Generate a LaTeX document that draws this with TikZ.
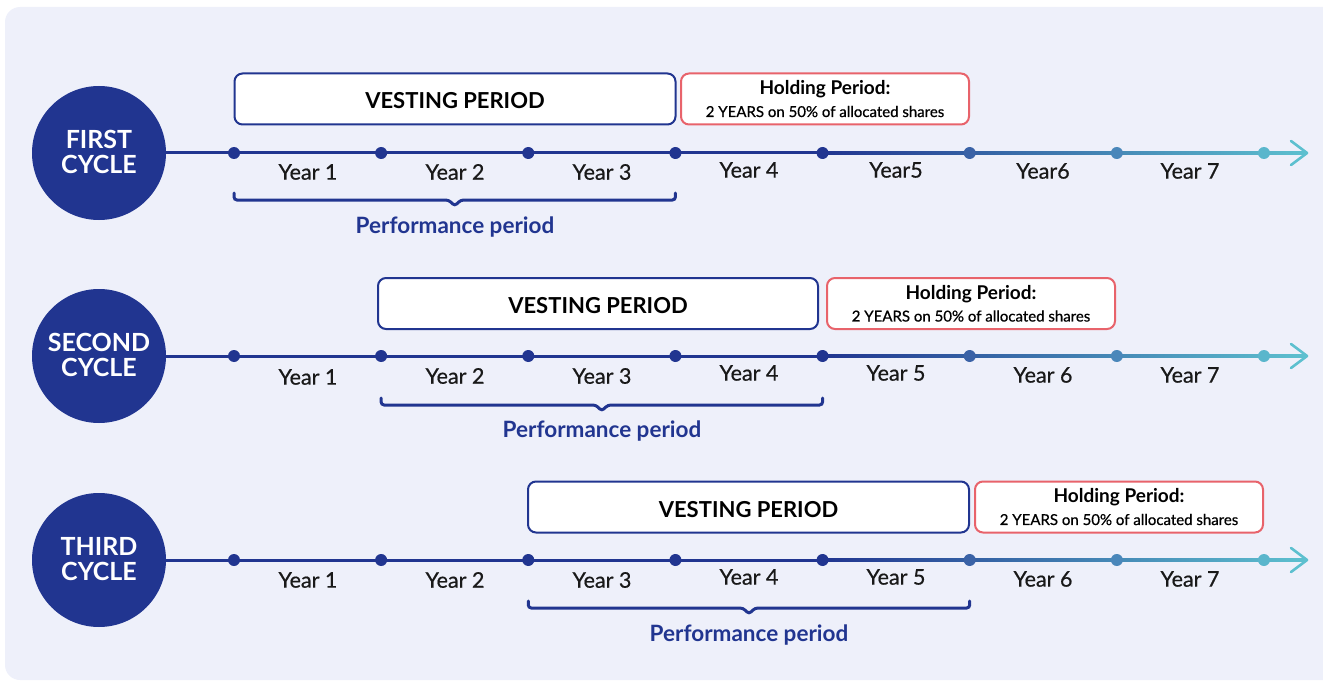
\documentclass[tikz,border=0pt]{standalone}
\usepackage{fontspec}
\setmainfont{Lato}
\newfontfamily\medfont[FakeBold=0.6]{Lato}
\usetikzlibrary{calc}
\definecolor{navy}{HTML}{213590}
\definecolor{redc}{HTML}{E8636B}
\definecolor{bgc}{HTML}{EEF0FA}
\definecolor{cyanc}{HTML}{5DC0CF}
\definecolor{dsix}{HTML}{3A62A6}
\definecolor{dseven}{HTML}{4A87BA}
\definecolor{deight}{HTML}{5AB6CC}
\begin{document}
\begin{tikzpicture}[x=1pt,y=-1pt,
  cycle/.style={circle, fill=navy, minimum size=134pt, inner sep=0pt},
  ctext/.style={text=white, align=center, font=\fontsize{25}{24.5}\selectfont\bfseries},
  dot/.style={circle, minimum size=12pt, inner sep=0pt},
  vest/.style={draw=navy, line width=2pt, fill=white, rounded corners=8pt, minimum height=51pt,
    font=\fontsize{22}{24}\selectfont\bfseries, inner sep=0pt, text height=20pt, text depth=0pt},
  hold/.style={draw=redc, line width=2pt, fill=white, rounded corners=8pt, minimum height=51pt,
    minimum width=288pt, align=center, inner sep=0pt, font=\fontsize{19}{22}\selectfont},
  yr/.style={font=\medfont\fontsize{21.5}{24}\selectfont, text=black!90, inner sep=0pt},
  perf/.style={font=\fontsize{22.5}{24}\selectfont\bfseries, text=navy, inner sep=0pt},
  brace/.style={draw=navy, line width=3pt, rounded corners=3pt, line cap=round},
  tline/.style={draw=navy, line width=3pt},
  arr/.style={draw=cyanc, line width=2.6pt, line cap=round, line join=round}
]
\useasboundingbox (0,0) rectangle (1323,682);
\fill[bgc, rounded corners=15pt] (5,7) rectangle (1380,680);

\foreach \r/\Y in {1/153, 2/356, 3/560} {
  \node[cycle] (c\r) at (99,\Y) {};
  \foreach \i in {1,...,8} {
    \coordinate (d\r-\i) at ({234+(\i-1)*147.14},\Y);
  }
  \coordinate (a\r) at (1307,\Y);
  \draw[tline] (c\r.east) -- (d\r-5);
  \shade[left color=navy, right color=cyanc] ($(d\r-5)+(0,-1.5)$) rectangle ($(a\r)+(-2,1.5)$);
  \draw[arr] ($(a\r)+(-16,-12)$) -- (a\r) -- ($(a\r)+(-16,12)$);
  \foreach \i in {1,...,5} { \node[dot, fill=navy] (p\r-\i) at (d\r-\i) {}; }
  \node[dot, fill=dsix] (p\r-6) at (d\r-6) {};
  \node[dot, fill=dseven] (p\r-7) at (d\r-7) {};
  \node[dot, fill=deight] (p\r-8) at (d\r-8) {};
}

\node[ctext] (t1) at ($(c1)+(0,-1)$) {FIRST\\CYCLE};
\node[ctext] (t2) at ($(c2)+(0,-1)$) {SECOND\\CYCLE};
\node[ctext] (t3) at ($(c3)+(0,-1)$) {THIRD\\CYCLE};

% boxes
\node[vest, minimum width=441pt] (v1) at (455,99) {VESTING PERIOD};
\node[hold] (h1) at (825,99) {\bfseries Holding Period:\\{\medfont\fontsize{15}{22}\selectfont 2 YEARS on 50\% of allocated shares}};
\node[vest, minimum width=440pt] (v2) at (598,303.5) {VESTING PERIOD};
\node[hold] (h2) at (971,303.5) {\bfseries Holding Period:\\{\medfont\fontsize{15}{22}\selectfont 2 YEARS on 50\% of allocated shares}};
\node[vest, minimum width=441pt] (v3) at (748.5,507) {VESTING PERIOD};
\node[hold] (h3) at (1119,507) {\bfseries Holding Period:\\{\medfont\fontsize{15}{22}\selectfont 2 YEARS on 50\% of allocated shares}};

% years row 1
\node[yr] (y1-1) at (308,172) {Year 1};
\node[yr] (y1-2) at (455,172) {Year 2};
\node[yr] (y1-3) at (602,172) {Year 3};
\node[yr] (y1-4) at (749,170) {Year 4};
\node[yr] (y1-5) at (896,170) {Year5};
\node[yr] (y1-6) at (1043,171) {Year6};
\node[yr] (y1-7) at (1190,171) {Year 7};
% row 2
\node[yr] (y2-1) at (308,377) {Year 1};
\node[yr] (y2-2) at (455,376) {Year 2};
\node[yr] (y2-3) at (602,376) {Year 3};
\node[yr] (y2-4) at (749,373) {Year 4};
\node[yr] (y2-5) at (896,373) {Year 5};
\node[yr] (y2-6) at (1043,375) {Year 6};
\node[yr] (y2-7) at (1190,375) {Year 7};
% row 3
\node[yr] (y3-1) at (308,580) {Year 1};
\node[yr] (y3-2) at (455,580) {Year 2};
\node[yr] (y3-3) at (602,580) {Year 3};
\node[yr] (y3-4) at (749,577) {Year 4};
\node[yr] (y3-5) at (896,577) {Year 5};
\node[yr] (y3-6) at (1043,579) {Year 6};
\node[yr] (y3-7) at (1190,579) {Year 7};

% braces
\draw[brace] ($(d1-1)+(0,40)$) -- ($(d1-1)+(0,47)$) -- ($(d1-1)!0.5!(d1-4)+(-6,47)$) -- ($(d1-1)!0.5!(d1-4)+(0,53)$) -- ($(d1-1)!0.5!(d1-4)+(6,47)$) -- ($(d1-4)+(0,47)$) -- ($(d1-4)+(0,40)$);
\draw[brace] ($(d2-2)+(0,42)$) -- ($(d2-2)+(0,49)$) -- ($(d2-2)!0.5!(d2-5)+(-6,49)$) -- ($(d2-2)!0.5!(d2-5)+(0,55)$) -- ($(d2-2)!0.5!(d2-5)+(6,49)$) -- ($(d2-5)+(0,49)$) -- ($(d2-5)+(0,42)$);
\draw[brace] ($(d3-3)+(0,41)$) -- ($(d3-3)+(0,48)$) -- ($(d3-3)!0.5!(d3-6)+(-6,48)$) -- ($(d3-3)!0.5!(d3-6)+(0,54)$) -- ($(d3-3)!0.5!(d3-6)+(6,48)$) -- ($(d3-6)+(0,48)$) -- ($(d3-6)+(0,41)$);

\node[perf] (pf1) at (455,227) {Performance period};
\node[perf] (pf2) at (602,431) {Performance period};
\node[perf] (pf3) at (749,635) {Performance period};
\end{tikzpicture}
\end{document}
